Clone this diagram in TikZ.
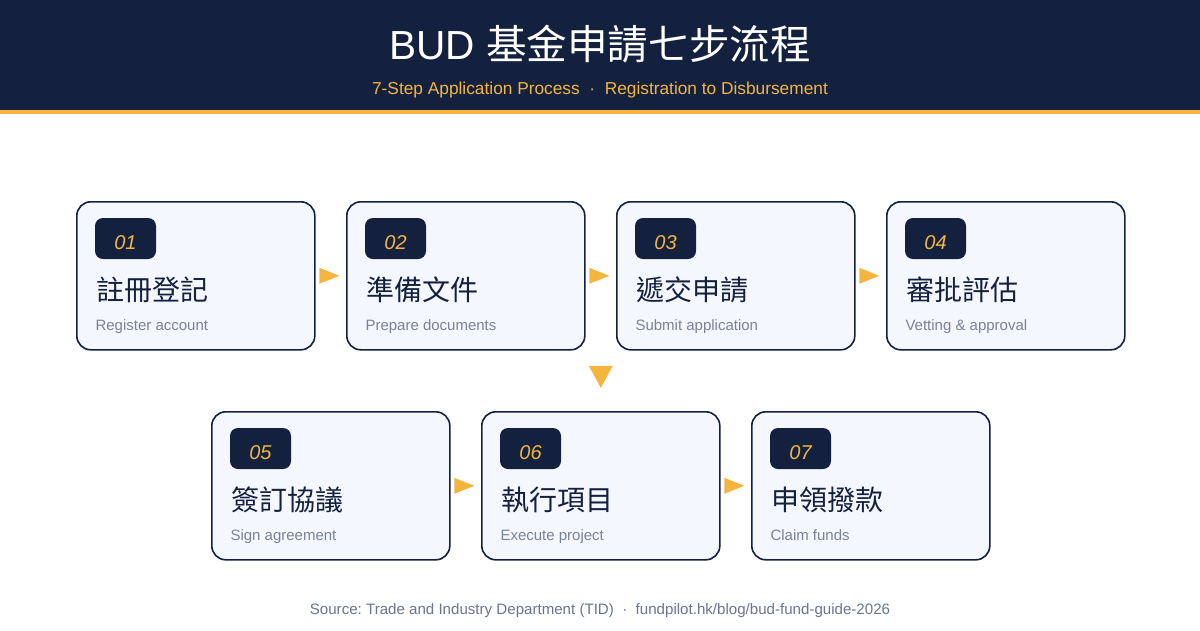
\documentclass[tikz,border=0pt]{standalone}
\usepackage{fontspec}
\setmainfont{Liberation Sans}
\newfontfamily\cjk{Noto Sans CJK TC}
\usetikzlibrary{calc}
\frenchspacing

\definecolor{navy}{HTML}{13213F}
\definecolor{gold}{HTML}{F4B53F}
\definecolor{cardbg}{HTML}{F4F7FE}
\definecolor{subgray}{HTML}{7A8299}
\definecolor{footgray}{HTML}{6B7591}

\tikzset{
  stepbox/.style={draw=navy, line width=1.6pt, fill=cardbg, rounded corners=14pt,
    minimum width=238pt, minimum height=148pt, inner sep=0pt, outer sep=0pt, anchor=north west},
  badge/.style={fill=navy, rounded corners=8pt, minimum width=61pt, minimum height=41pt,
    inner sep=0pt, anchor=north west, text=gold, text height=21pt, text depth=0pt,
    font=\fontsize{20}{24}\selectfont\itshape},
  zhlabel/.style={anchor=base west, inner sep=0pt, text=navy, font=\fontsize{28}{32}\selectfont\cjk},
  enlabel/.style={anchor=base west, inner sep=0pt, text=subgray, font=\fontsize{15}{18}\selectfont},
  fwd/.pic={\fill[gold] (-11.5pt,8pt) -- (8.5pt,0pt) -- (-11.5pt,-8pt) -- cycle;},
  down/.pic={\fill[gold] (-12pt,11pt) -- (12pt,11pt) -- (0pt,-11pt) -- cycle;},
}

\begin{document}
\begin{tikzpicture}[x=1pt, y=-1pt]
    \useasboundingbox (0,0) rectangle (1200,630);
    \fill[white] (0,0) rectangle (1200,630);

    % header
    \fill[navy] (0,0) rectangle (1200,110);
    \fill[gold] (0,110) rectangle (1200,114);
    \node[anchor=base, inner sep=0pt, text=white, font=\fontsize{40.6}{44}\selectfont] (title) at (600,59)
        {BUD {\cjk 基金申請七步流程}};
    \node[anchor=base, inner sep=0pt, text=gold, font=\fontsize{17.3}{20}\selectfont] (subtitle) at (600,94)
        {7-Step Application Process \ · \ Registration to Disbursement};

    % row 1
    \node[stepbox] (s1) at (76.8,201.8) {};
    \node[stepbox] (s2) at (346.8,201.8) {};
    \node[stepbox] (s3) at (616.8,201.8) {};
    \node[stepbox] (s4) at (886.8,201.8) {};
    % row 2
    \node[stepbox] (s5) at (211.8,411.8) {};
    \node[stepbox] (s6) at (481.8,411.8) {};
    \node[stepbox] (s7) at (751.8,411.8) {};

    \node[badge] (b1) at ([xshift=18pt,yshift=-16pt]s1.north west) {01};
    \node[zhlabel] (t1) at ([xshift=19pt,yshift=-98.5pt]s1.north west) {註冊登記};
    \node[enlabel] (e1) at ([xshift=18.5pt,yshift=-128.5pt]s1.north west) {Register account};

    \node[badge] (b2) at ([xshift=18pt,yshift=-16pt]s2.north west) {02};
    \node[zhlabel] (t2) at ([xshift=19pt,yshift=-98.5pt]s2.north west) {準備文件};
    \node[enlabel] (e2) at ([xshift=18.5pt,yshift=-128.5pt]s2.north west) {Prepare documents};

    \node[badge] (b3) at ([xshift=18pt,yshift=-16pt]s3.north west) {03};
    \node[zhlabel] (t3) at ([xshift=19pt,yshift=-98.5pt]s3.north west) {遞交申請};
    \node[enlabel] (e3) at ([xshift=18.5pt,yshift=-128.5pt]s3.north west) {Submit application};

    \node[badge] (b4) at ([xshift=18pt,yshift=-16pt]s4.north west) {04};
    \node[zhlabel] (t4) at ([xshift=19pt,yshift=-98.5pt]s4.north west) {審批評估};
    \node[enlabel] (e4) at ([xshift=18.5pt,yshift=-128.5pt]s4.north west) {Vetting \& approval};

    \node[badge] (b5) at ([xshift=18pt,yshift=-16pt]s5.north west) {05};
    \node[zhlabel] (t5) at ([xshift=19pt,yshift=-98.5pt]s5.north west) {簽訂協議};
    \node[enlabel] (e5) at ([xshift=18.5pt,yshift=-128.5pt]s5.north west) {Sign agreement};

    \node[badge] (b6) at ([xshift=18pt,yshift=-16pt]s6.north west) {06};
    \node[zhlabel] (t6) at ([xshift=19pt,yshift=-98.5pt]s6.north west) {執行項目};
    \node[enlabel] (e6) at ([xshift=18.5pt,yshift=-128.5pt]s6.north west) {Execute project};

    \node[badge] (b7) at ([xshift=18pt,yshift=-16pt]s7.north west) {07};
    \node[zhlabel] (t7) at ([xshift=19pt,yshift=-98.5pt]s7.north west) {申領撥款};
    \node[enlabel] (e7) at ([xshift=18.5pt,yshift=-128.5pt]s7.north west) {Claim funds};

    % arrows
    \pic at ($(s1.east)!0.5!(s2.west)$) {fwd};
    \pic at ($(s2.east)!0.5!(s3.west)$) {fwd};
    \pic at ($(s3.east)!0.5!(s4.west)$) {fwd};
    \pic at ($(s2.south east)!0.5!(s3.south west)+(0,27)$) {down};
    \pic at ($(s5.east)!0.5!(s6.west)$) {fwd};
    \pic at ($(s6.east)!0.5!(s7.west)$) {fwd};

    % footer
    \node[anchor=base, inner sep=0pt, text=footgray, font=\fontsize{15.1}{18}\selectfont] (source) at (600,614)
        {Source: Trade and Industry Department (TID) \ · \ fundpilot.hk/blog/bud-fund-guide-2026};
\end{tikzpicture}
\end{document}
